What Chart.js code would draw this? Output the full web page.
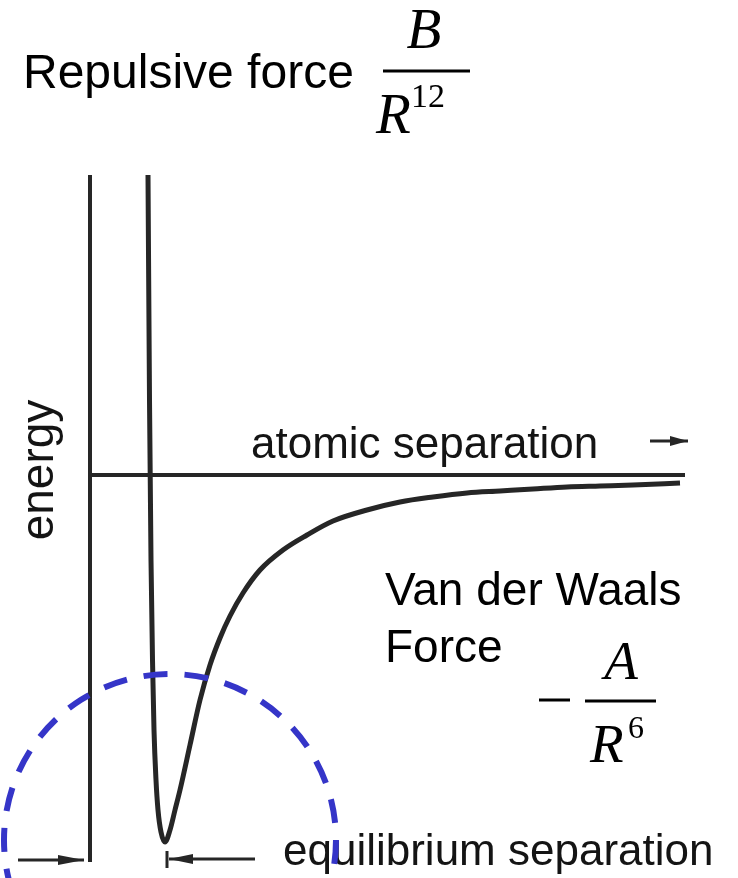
<!DOCTYPE html>
<html>
<head>
<meta charset="utf-8">
<script src="https://cdn.jsdelivr.net/npm/chart.js@4.4.1/dist/chart.umd.min.js"></script>
<style>
  html, body { margin: 0; padding: 0; background: #ffffff; }
  #wrap { width: 738px; height: 878px; }
</style>
</head>
<body>
<div id="wrap"><canvas id="c" width="738" height="878"></canvas></div>
<script>
// Atomic separation (arbitrary units, 0 at the energy axis)
const separation = [58, 59.5, 61, 62.5, 64, 66, 68, 71, 75, 80, 85, 90, 100, 110, 120, 130, 140, 153, 170, 193, 217, 243, 277, 310, 343, 377, 410, 443, 477, 510, 543, 590];
// Potential energy (arbitrary units, 0 at the horizontal line)
const energy =     [300, 75, -85, -185, -255, -305, -335, -357, -367, -355, -335, -315, -270, -225, -190, -163, -141, -118, -95, -75, -60, -46, -35, -27, -22, -18, -16, -14, -12, -11, -10, -8];
// Energy axis (vertical line) and zero-energy line
const axisSep = [0, 0];
const axisEnergy = [300, -387];
const zeroSep = [0, 595];
const zeroEnergy = [0, 0];
// Text labels
const titleText = "Repulsive force";
const xLabel = "atomic separation";
const yLabel = "energy";
const vdwLine1 = "Van der Waals";
const vdwLine2 = "Force";
const eqLabel = "equilibrium separation";

const toPts = (xs, ys) => xs.map((x, i) => ({ x: x, y: ys[i] }));
const INK = '#262626';

const overlay = {
  id: 'overlay',
  beforeDraw(chart) {
    const ctx = chart.ctx;
    ctx.save();
    ctx.fillStyle = '#ffffff';
    ctx.fillRect(0, 0, chart.width, chart.height);
    ctx.restore();
  },
  afterDatasetsDraw(chart) {
    const ctx = chart.ctx;
    const xs = chart.scales.x, ys = chart.scales.y;
    const px = v => xs.getPixelForValue(v);
    const py = v => ys.getPixelForValue(v);
    // pixel-position helpers relative to the scales
    const X = p => px(xs.min + p * (xs.max - xs.min) / (xs.right - xs.left));
    const Y = p => py(ys.max - p * (ys.max - ys.min) / (ys.bottom - ys.top));

    ctx.save();
    // ---------- texts ----------
    ctx.fillStyle = '#000';
    ctx.textAlign = 'left';
    ctx.textBaseline = 'alphabetic';
    ctx.font = '48px "Liberation Sans", Arial, sans-serif';
    ctx.fillText(titleText, X(23), Y(88));

    // B / R^12
    ctx.font = 'italic 57px "Liberation Serif", "Times New Roman", serif';
    ctx.textAlign = 'center';
    ctx.fillText('B', X(424), Y(48));
    ctx.fillRect(X(383), Y(69.5), X(470) - X(383), 3);
    ctx.textAlign = 'left';
    ctx.fillText('R', X(376), Y(133));
    ctx.font = '34px "Liberation Serif", "Times New Roman", serif';
    ctx.fillText('12', X(411), Y(107));

    // atomic separation
    ctx.fillStyle = '#141414';
    ctx.font = '44px "Liberation Sans", Arial, sans-serif';
    ctx.fillText(xLabel, X(251), Y(458));

    // energy (rotated)
    ctx.save();
    ctx.translate(X(53), Y(470));
    ctx.rotate(-Math.PI / 2);
    ctx.textAlign = 'center';
    ctx.font = '46px "Liberation Sans", Arial, sans-serif';
    ctx.fillText(yLabel, 0, 0);
    ctx.restore();

    // Van der Waals Force
    ctx.fillStyle = '#000';
    ctx.font = '46px "Liberation Sans", Arial, sans-serif';
    ctx.fillText(vdwLine1, X(385), Y(605));
    ctx.fillText(vdwLine2, X(385), Y(662));

    // - A / R^6
    ctx.fillRect(X(539), Y(698.5), X(570) - X(539), 3);
    ctx.font = 'italic 55px "Liberation Serif", "Times New Roman", serif';
    ctx.textAlign = 'center';
    ctx.fillText('A', X(621), Y(679));
    ctx.fillRect(X(585), Y(699.5), X(656) - X(585), 3);
    ctx.textAlign = 'left';
    ctx.fillText('R', X(590), Y(762));
    ctx.font = '32px "Liberation Serif", "Times New Roman", serif';
    ctx.fillText('6', X(628), Y(738));

    // equilibrium separation
    ctx.fillStyle = '#141414';
    ctx.font = '44px "Liberation Sans", Arial, sans-serif';
    ctx.fillText(eqLabel, X(283), Y(865));

    // ---------- arrows ----------
    ctx.strokeStyle = INK;
    ctx.fillStyle = INK;
    ctx.lineWidth = 3;
    const arrow = (x1, y, x2, head) => {
      ctx.beginPath();
      ctx.moveTo(X(x1), Y(y));
      ctx.lineTo(X(x2), Y(y));
      ctx.stroke();
      const dir = Math.sign(x2 - x1);
      ctx.beginPath();
      ctx.moveTo(X(x2), Y(y));
      ctx.lineTo(X(x2 - dir * head), Y(y) - 5);
      ctx.lineTo(X(x2 - dir * head), Y(y) + 5);
      ctx.closePath();
      ctx.fill();
    };
    arrow(650, 441, 688, 18);
    arrow(18, 860, 84, 26);
    arrow(255, 859, 169, 24);
    ctx.beginPath();
    ctx.moveTo(X(167), Y(851));
    ctx.lineTo(X(167), Y(868));
    ctx.stroke();

    // ---------- blue dashed circle ----------
    const cx = px(80), cy = py(-365);
    const r = px(80 + 166) - cx;
    ctx.strokeStyle = '#3535c8';
    ctx.lineWidth = 6;
    ctx.setLineDash([24, 17]);
    ctx.beginPath();
    ctx.arc(cx, cy, r, Math.PI * 0.82, Math.PI * 2.18);
    ctx.stroke();
    ctx.restore();
  }
};

new Chart(document.getElementById('c'), {
  type: 'scatter',
  data: {
    datasets: [
      { data: toPts(axisSep, axisEnergy), showLine: true, borderColor: INK, borderWidth: 4, pointRadius: 0, borderCapStyle: 'butt' },
      { data: toPts(zeroSep, zeroEnergy), showLine: true, borderColor: INK, borderWidth: 4, pointRadius: 0, borderCapStyle: 'butt' },
      { data: toPts(separation, energy), showLine: true, borderColor: INK, borderWidth: 5, pointRadius: 0,
        cubicInterpolationMode: 'monotone', borderJoinStyle: 'round' }
    ]
  },
  options: {
    responsive: false,
    animation: false,
    devicePixelRatio: 1,
    layout: { padding: 0 },
    plugins: { legend: { display: false }, tooltip: { enabled: false } },
    scales: {
      x: { type: 'linear', min: -90, max: 648, display: false },
      y: { type: 'linear', min: -403, max: 475, display: false }
    }
  },
  plugins: [overlay]
});
</script>
</body>
</html>
